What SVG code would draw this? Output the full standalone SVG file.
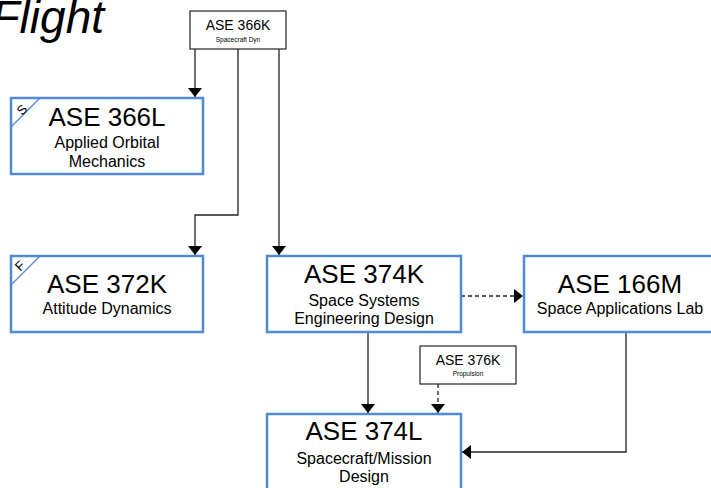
<svg xmlns="http://www.w3.org/2000/svg" width="711" height="488" viewBox="0 0 711 488">
<style>
.bg{fill:#fff}
.course rect{fill:#fff;stroke:#4f89d8;stroke-width:2.5}
.pre rect{fill:#fff;stroke:#222;stroke-width:1.2}
text{font-family:"Liberation Sans",Arial,sans-serif;fill:#000;text-anchor:middle}
.t{font-size:26px}
.s{font-size:16px}
.pt{font-size:14px}
.ps{font-size:6.5px}
.tag{font-size:13px}
.corner{stroke:#4f89d8;stroke-width:1.2}
.conn path{fill:none;stroke:#222;stroke-width:1.3}
.conn .dash{stroke-dasharray:4 3}
</style>
<defs>
<marker id="ah" viewBox="0 0 9 14" refX="9" refY="7" markerWidth="9" markerHeight="14" markerUnits="userSpaceOnUse" orient="auto">
<path d="M0,0 L9,7 L0,14 z" fill="#000"/>
</marker>
</defs>
<rect class="bg" x="0" y="0" width="711" height="488"/>
<text x="104" y="33" style="font-size:46px;font-style:italic;text-anchor:end">Flight</text>

<g class="conn">
<path d="M195,49 V97" marker-end="url(#ah)"/>
<path d="M238,49 V215 H195 V255" marker-end="url(#ah)"/>
<path d="M279,49 V255" marker-end="url(#ah)"/>
<path class="dash" d="M461,296 H523" marker-end="url(#ah)"/>
<path d="M368,332 V413" marker-end="url(#ah)"/>
<path class="dash" d="M438,384 V413" marker-end="url(#ah)"/>
<path d="M626,332 V452 H462" marker-end="url(#ah)"/>
</g>

<g id="ase366k" class="pre">
<rect x="190" y="11" width="96" height="38"/>
<text class="pt" x="238" y="30">ASE 366K</text>
<text class="ps" x="238" y="42">Spacecraft Dyn</text>
</g>

<g id="ase366l" class="course">
<rect x="11" y="98" width="192" height="76"/>
<line class="corner" x1="11" y1="127" x2="40" y2="98"/>
<text class="tag" transform="translate(25,113) rotate(-45)">S</text>
<text class="t" x="107" y="126">ASE 366L</text>
<text class="s" x="107" y="148">Applied Orbital</text>
<text class="s" x="107" y="167">Mechanics</text>
</g>

<g id="ase372k" class="course">
<rect x="11" y="256" width="192" height="76"/>
<line class="corner" x1="11" y1="285" x2="40" y2="256"/>
<text class="tag" transform="translate(23,269) rotate(-45)">F</text>
<text class="t" x="107" y="293">ASE 372K</text>
<text class="s" x="107" y="314">Attitude Dynamics</text>
</g>

<g id="ase374k" class="course">
<rect x="267" y="256" width="194" height="76"/>
<text class="t" x="364" y="283">ASE 374K</text>
<text class="s" x="364" y="306">Space Systems</text>
<text class="s" x="364" y="324">Engineering Design</text>
</g>

<g id="ase166m" class="course">
<rect x="524" y="256" width="192" height="76"/>
<text class="t" x="620" y="293">ASE 166M</text>
<text class="s" x="620" y="314">Space Applications Lab</text>
</g>

<g id="ase376k" class="pre">
<rect x="420" y="346" width="96" height="38"/>
<text class="pt" x="468" y="365">ASE 376K</text>
<text class="ps" x="468" y="376">Propulsion</text>
</g>

<g id="ase374l" class="course">
<rect x="267" y="414" width="194" height="80"/>
<text class="t" x="364" y="440">ASE 374L</text>
<text class="s" x="364" y="464">Spacecraft/Mission</text>
<text class="s" x="364" y="482">Design</text>
</g>
</svg>
